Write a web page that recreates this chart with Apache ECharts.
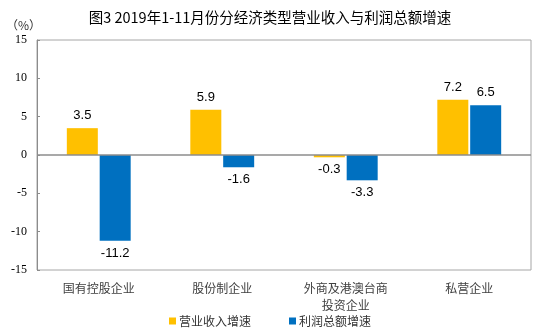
<!DOCTYPE html>
<html><head><meta charset="utf-8">
<script src="https://cdn.jsdelivr.net/npm/echarts@6/dist/echarts.min.js"></script>
<style>html,body{margin:0;padding:0;background:#fff}#c{width:540px;height:336px}</style>
</head><body><div id="c"></div>
<script>
var categories = ['国有控股企业', '股份制企业', '外商及港澳台商\n投资企业', '私营企业'];
var revenueGrowth = [3.5, 5.9, -0.3, 7.2];
var profitGrowth = [-11.2, -1.6, -3.3, 6.5];
var seriesNames = ['营业收入增速', '利润总额增速'];
var yTicks = {min: -15, max: 15, interval: 5};

function withLabelPos(arr) {
  return arr.map(function (v) { return {value: v, label: {position: v >= 0 ? 'top' : 'bottom'}}; });
}

var chart = echarts.init(document.getElementById('c'), null, {renderer: 'canvas'});
var labelStyle = {show: true, fontFamily: "'Liberation Sans', Arial", fontSize: 13, color: '#000', distance: 6};
chart.setOption({
  animation: false,
  title: {
    text: '图3 2019年1-11月份分经济类型营业收入与利润总额增速',
    left: 'center', top: 5,
    textStyle: {fontFamily: "'Noto Sans CJK SC'", fontSize: 14.5, fontWeight: 'normal', color: '#000'}
  },
  graphic: [{type: 'text', left: 6, top: 19, style: {text: '（%）', fontFamily: "'Noto Sans CJK SC'", fontSize: 12, fill: '#333'}}],
  legend: {
    bottom: 4, left: 'center', itemWidth: 7, itemHeight: 7, itemGap: 38,
    icon: 'rect',
    textStyle: {fontFamily: "'Noto Sans CJK SC'", fontSize: 12, color: '#333', padding: [0,0,0,-2]},
    data: seriesNames
  },
  grid: {left: 37, right: 9, top: 40, bottom: 66, show: true, borderColor: '#a6a6a6', borderWidth: 1},
  xAxis: {
    type: 'category', data: categories,
    axisLine: {show: false}, axisTick: {show: false},
    axisLabel: {fontFamily: "'Noto Sans CJK SC'", fontSize: 12, color: '#404040', margin: 10, lineHeight: 17}
  },
  yAxis: {
    type: 'value', min: yTicks.min, max: yTicks.max, interval: yTicks.interval,
    axisLine: {show: true, lineStyle: {color: '#8c8c8c'}},
    axisTick: {show: true, inside: true, length: 3, lineStyle: {color: '#8c8c8c'}},
    splitLine: {show: false},
    axisLabel: {fontFamily: "'Liberation Serif', 'Times New Roman', serif", fontSize: 12, color: '#000', margin: 10}
  },
  series: [
    {name: seriesNames[0], type: 'bar', data: withLabelPos(revenueGrowth), barWidth: 31, barGap: '6%',
     itemStyle: {color: '#FFC000'}, label: labelStyle,
     markLine: {silent: true, symbol: 'none', label: {show: false}, lineStyle: {color: '#8c8c8c', type: 'solid', width: 1.5}, data: [{yAxis: 0}]}},
    {name: seriesNames[1], type: 'bar', data: withLabelPos(profitGrowth), barWidth: 31,
     itemStyle: {color: '#0070C0'}, label: labelStyle}
  ]
});
</script></body></html>
